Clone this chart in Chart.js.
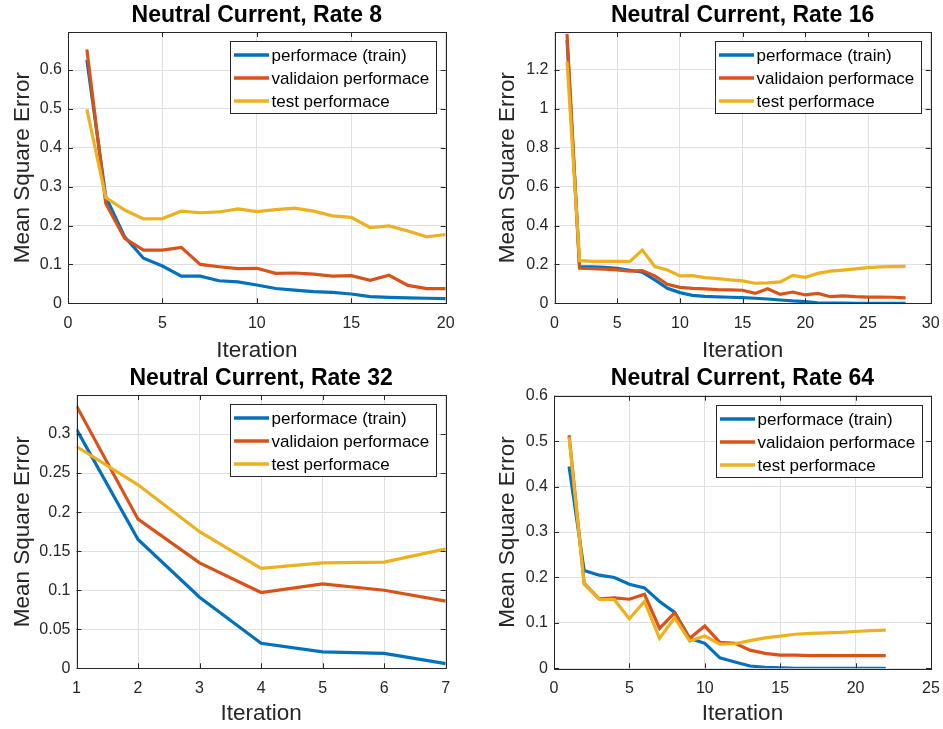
<!DOCTYPE html>
<html><head><meta charset="utf-8">
<script src="https://cdn.jsdelivr.net/npm/chart.js@4"></script>
<style>
html,body{margin:0;padding:0;background:#fff;width:943px;height:729px;overflow:hidden}
canvas{position:absolute}
</style></head><body>
<canvas id="c1" width="484" height="363" style="left:0px;top:0px"></canvas>
<canvas id="c2" width="458" height="363" style="left:485px;top:0px"></canvas>
<canvas id="c3" width="484" height="366" style="left:0px;top:363px"></canvas>
<canvas id="c4" width="458" height="366" style="left:485px;top:363px"></canvas>
<script>
// ---- data ----
const seriesLabels = ['performace (train)', 'validaion performace', 'test performace'];
const titles = ['Neutral Current, Rate 8', 'Neutral Current, Rate 16', 'Neutral Current, Rate 32', 'Neutral Current, Rate 64'];
const xLabel = 'Iteration';
const yLabel = 'Mean Square Error';

const rate8Iter  = [1,2,3,4,5,6,7,8,9,10,11,12,13,14,15,16,17,18,19,20];
const rate8Train = [0.626,0.274,0.171,0.116,0.096,0.070,0.070,0.058,0.055,0.047,0.038,0.034,0.030,0.028,0.024,0.017,0.015,0.014,0.013,0.012];
const rate8Val   = [0.653,0.257,0.167,0.137,0.137,0.144,0.100,0.094,0.089,0.090,0.077,0.078,0.075,0.070,0.071,0.059,0.072,0.046,0.038,0.038];
const rate8Test  = [0.499,0.272,0.240,0.217,0.218,0.237,0.233,0.235,0.243,0.236,0.241,0.245,0.237,0.225,0.221,0.195,0.199,0.186,0.171,0.177];

const rate16Iter  = [1,2,3,4,5,6,7,8,9,10,11,12,13,14,15,16,17,18,19,20,21,22,23,24,25,26,27,28];
const rate16Train = [1.354,0.189,0.187,0.185,0.180,0.170,0.160,0.120,0.077,0.055,0.041,0.036,0.033,0.031,0.029,0.026,0.022,0.017,0.012,0.009,0.002,0.001,0.001,0.000,0.000,0.000,0.000,0.000];
const rate16Val   = [1.385,0.180,0.178,0.176,0.172,0.165,0.168,0.141,0.098,0.082,0.077,0.074,0.070,0.069,0.067,0.051,0.075,0.046,0.058,0.043,0.051,0.034,0.038,0.034,0.032,0.032,0.031,0.028];
const rate16Test  = [1.243,0.219,0.216,0.216,0.216,0.214,0.274,0.189,0.171,0.141,0.142,0.132,0.127,0.120,0.115,0.103,0.105,0.110,0.144,0.134,0.154,0.165,0.171,0.177,0.183,0.187,0.189,0.190];

const rate32Iter  = [1,2,3,4,5,6,7];
const rate32Train = [0.306,0.165,0.091,0.032,0.021,0.019,0.006];
const rate32Val   = [0.336,0.191,0.135,0.097,0.108,0.100,0.086];
const rate32Test  = [0.284,0.235,0.175,0.128,0.135,0.136,0.153];

const rate64Iter  = [1,2,3,4,5,6,7,8,9,10,11,12,13,14,15,16,17,18,19,20,21,22];
const rate64Train = [0.444,0.215,0.205,0.200,0.185,0.177,0.147,0.123,0.066,0.055,0.023,0.014,0.005,0.002,0.001,0.000,0.000,0.000,0.000,0.000,0.000,0.000];
const rate64Val   = [0.513,0.187,0.153,0.155,0.152,0.163,0.088,0.122,0.066,0.093,0.057,0.055,0.040,0.033,0.029,0.029,0.028,0.028,0.028,0.028,0.028,0.028];
const rate64Test  = [0.509,0.185,0.152,0.151,0.109,0.147,0.066,0.111,0.060,0.071,0.053,0.054,0.061,0.067,0.071,0.075,0.077,0.078,0.079,0.081,0.083,0.084];

const xTicks8  = [0,5,10,15,20];
const xTicks16 = [0,5,10,15,20,25,30];
const xTicks32 = [1,2,3,4,5,6,7];
const xTicks64 = [0,5,10,15,20,25];
const yTicks8  = [0,0.1,0.2,0.3,0.4,0.5,0.6];
const yTicks16 = [0,0.2,0.4,0.6,0.8,1,1.2];
const yTicks32 = [0,0.05,0.1,0.15,0.2,0.25,0.3];
const yTicks64 = [0,0.1,0.2,0.3,0.4,0.5,0.6];

// ---- style / layout ----
const COLORS = ['#0072BD', '#D95319', '#EDB120'];
const FONT = 'Liberation Sans, Arial, Helvetica, sans-serif';
const AX = '#262626';

function pair(xs, ys){ return xs.map((x,i)=>({x:x, y:ys[i]})); }

const panels = [
  {id:'c1', title:titles[0], iter:rate8Iter, s:[rate8Train,rate8Val,rate8Test], xt:xTicks8, yt:yTicks8, xr:[0,20], yr:[0,0.698], L:68, R:445.7, T:32, B:303.3},
  {id:'c2', title:titles[1], iter:rate16Iter, s:[rate16Train,rate16Val,rate16Test], xt:xTicks16, yt:yTicks16, xr:[0,30], yr:[0,1.395], L:69.5, R:445.7, T:32, B:303.3},
  {id:'c3', title:titles[2], iter:rate32Iter, s:[rate32Train,rate32Val,rate32Test], xt:xTicks32, yt:yTicks32, xr:[1,7], yr:[0,0.35], L:76.5, R:445.7, T:32, B:305.3},
  {id:'c4', title:titles[3], iter:rate64Iter, s:[rate64Train,rate64Val,rate64Test], xt:xTicks64, yt:yTicks64, xr:[0,25], yr:[0,0.6], L:69, R:446, T:32.7, B:305.3}
];

const frame = {
  id:'frame',
  afterDatasetsDraw(chart){
    const ctx = chart.ctx, a = chart.chartArea;
    const xs = chart.scales.x, ys = chart.scales.y;
    ctx.save();
    ctx.strokeStyle = AX; ctx.lineWidth = 1;
    ctx.beginPath();
    const tl = 5;
    xs.ticks.forEach(t=>{
      const px = Math.round(xs.getPixelForValue(t.value)) + 0.5;
      ctx.moveTo(px, a.bottom); ctx.lineTo(px, a.bottom - tl);
      ctx.moveTo(px, a.top); ctx.lineTo(px, a.top + tl);
    });
    ys.ticks.forEach(t=>{
      const py = Math.round(ys.getPixelForValue(t.value)) + 0.5;
      ctx.moveTo(a.left, py); ctx.lineTo(a.left + tl, py);
      ctx.moveTo(a.right, py); ctx.lineTo(a.right - tl, py);
    });
    ctx.stroke();
    ctx.strokeRect(Math.round(a.left)+0.5, Math.round(a.top)+0.5, Math.round(a.right-a.left), Math.round(a.bottom-a.top));
    ctx.restore();
  },
  afterDraw(chart){
    const ctx = chart.ctx, a = chart.chartArea;
    const w = 206, h = 72;
    const x0 = Math.round(a.right - 9.5 - w) + 0.5, y0 = Math.round(a.top + 9) + 0.5;
    ctx.save();
    ctx.fillStyle = '#fff';
    ctx.fillRect(x0, y0, w, h);
    ctx.strokeStyle = AX; ctx.lineWidth = 1;
    ctx.strokeRect(x0, y0, w, h);
    ctx.font = '17px ' + FONT;
    ctx.textBaseline = 'middle';
    ctx.textAlign = 'left';
    chart.data.datasets.forEach((ds, i)=>{
      const cy = y0 + 13.5 + 23 * i;
      ctx.strokeStyle = ds.borderColor; ctx.lineWidth = 3.5;
      ctx.beginPath(); ctx.moveTo(x0 + 3.5, cy); ctx.lineTo(x0 + 38.5, cy); ctx.stroke();
      ctx.fillStyle = '#000';
      ctx.fillText(ds.label, x0 + 41, cy + 1);
    });
    ctx.restore();
  }
};

panels.forEach(p=>{
  const cv = document.getElementById(p.id);
  const W = cv.width, H = cv.height;
  new Chart(cv, {
    type:'line',
    data:{
      datasets: p.s.map((arr,i)=>({
        label: seriesLabels[i],
        data: pair(p.iter, arr),
        borderColor: COLORS[i],
        backgroundColor: COLORS[i],
        borderWidth: 3.2,
        pointRadius: 0,
        tension: 0,
        fill: false,
        order: 3 - i
      }))
    },
    options:{
      responsive:false,
      devicePixelRatio:1,
      animation:false,
      events:[],
      layout:{padding:{left:0, right: W - p.R, top:0, bottom:0}},
      plugins:{
        legend:{display:false},
        tooltip:{enabled:false},
        title:{display:true, fullSize:false, text:p.title, color:'#000',
               font:{family:FONT, size:23, weight:'bold', lineHeight:1.2},
               padding:{top:1.5, bottom: p.T - 1.5 - 27.6}}
      },
      scales:{
        x:{
          type:'linear', min:p.xr[0], max:p.xr[1],
          afterBuildTicks(s){ s.ticks = p.xt.map(v=>({value:v})); },
          afterFit(s){ s.height = H - p.B; s.paddingLeft = 0; s.paddingRight = 0; },
          grid:{color:'#dfdfdf', lineWidth:1, drawTicks:false},
          border:{display:false},
          ticks:{color:AX, padding:11, maxRotation:0, autoSkip:false,
                 font:{family:FONT, size:16},
                 callback:(v)=>String(v)},
          title:{display:true, text:xLabel, color:AX,
                 font:{family:FONT, size:22.5, lineHeight:1.0},
                 padding:{top:0, bottom: 0.5 + (H - 363)}}
        },
        y:{
          type:'linear', min:p.yr[0], max:p.yr[1],
          afterBuildTicks(s){ s.ticks = p.yt.map(v=>({value:v})); },
          afterFit(s){ s.width = p.L; s.paddingTop = 0; s.paddingBottom = 0; },
          grid:{color:'#dfdfdf', lineWidth:1, drawTicks:false},
          border:{display:false},
          ticks:{color:AX, padding:6, autoSkip:false,
                 font:{family:FONT, size:16},
                 callback:(v)=>String(v)},
          title:{display:true, text:yLabel, color:AX,
                 font:{family:FONT, size:22.5, lineHeight:1.2},
                 padding:{top:9, bottom:0}}
        }
      }
    },
    plugins:[frame]
  });
});
</script>
</body></html>
